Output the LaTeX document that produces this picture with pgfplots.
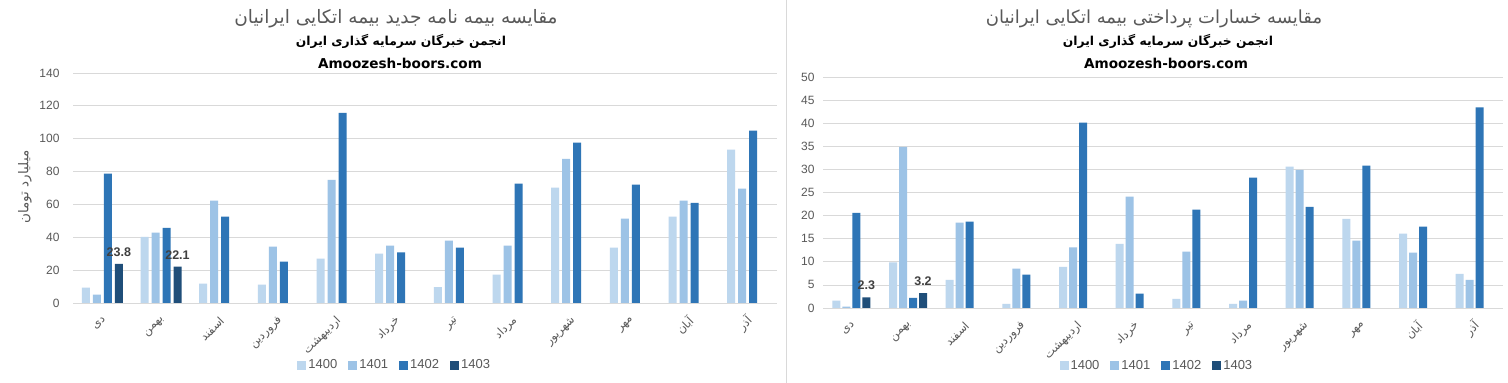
\documentclass[border=0pt]{standalone}
\usepackage{pgfplots}
\pgfplotsset{compat=1.18}
\usepackage{fontspec}
\setmainfont{Liberation Sans}
\newfontfamily\fa[Script=Arabic]{DejaVu Sans}
\newfontfamily\web{DejaVu Sans}
\TeXXeTstate=1
\newcommand{\fat}[1]{{\fa\beginR #1\endR}}
\definecolor{cA}{HTML}{BDD7EE}
\definecolor{cB}{HTML}{9DC3E6}
\definecolor{cC}{HTML}{2E75B6}
\definecolor{cD}{HTML}{1F4E79}
\definecolor{txt}{HTML}{595959}
\definecolor{gridc}{HTML}{D9D9D9}
\definecolor{lab}{HTML}{404040}

\pgfplotsset{
  mybar/.style={
    scale only axis,
    bar width=8pt,
    xmin=-0.5, xmax=11.5, ymin=0,
    xtick={0,...,11},
    xticklabels={\fat{دی},\fat{بهمن},\fat{اسفند},\fat{فروردین},\fat{اردیبهشت},\fat{خرداد},\fat{تیر},\fat{مرداد},\fat{شهریور},\fat{مهر},\fat{آبان},\fat{آذر}},
    xticklabel style={font=\fontsize{11.5}{13}\selectfont, text=txt, inner sep=1pt, xshift=3pt, yshift=-15pt, rotate=45, anchor=east},
    yticklabel style={font=\fontsize{12}{14}\selectfont, text=txt},
    /pgf/number format/assume math mode=true,
    major tick length=0pt,
    axis line style={draw=none},
    ymajorgrids,
    major grid style={gridc, line width=0.8pt},
    legend style={draw=none, legend columns=4, font=\fontsize{13}{15}\selectfont, text=txt,
      /tikz/every even column/.append style={column sep=9pt}},
  },
  sq/.style={draw=none, legend image code/.code={\fill[##1] (0pt,-4.5pt) rectangle (9pt,4.5pt);}},
  lbl/.style={nodes near coords, nodes near coords style={font=\bfseries\fontsize{12.5}{14}\selectfont, text=lab, yshift=4pt},
    /pgf/number format/.cd, fixed, precision=1, fixed zerofill},
}

\begin{document}
\begin{tikzpicture}
\useasboundingbox (0,0) rectangle (1508pt,383pt);
\fill[white] (0,0) rectangle (1508pt,383pt);
\draw[gridc, line width=0.8pt] (786pt,0) -- (786pt,383pt);

% titles left
\node[text=txt, font=\fa\fontsize{18.5}{20}\selectfont] at (396pt,364pt) {\beginR مقایسه بیمه نامه جدید بیمه اتکایی ایرانیان\endR};
\node[font=\fa\bfseries\fontsize{12.3}{14}\selectfont] at (401pt,342pt) {\beginR انجمن خبرگان سرمایه گذاری ایران\endR};
\node[font=\web\bfseries\fontsize{13.6}{15}\selectfont] at (400pt,320pt) {Amoozesh-boors.com};
\node[rotate=90, text=txt, font=\fa\fontsize{13.5}{15}\selectfont] at (25pt,196pt) {\beginR میلیارد تومان\endR};

% titles right
\node[text=txt, font=\fa\fontsize{18}{20}\selectfont] at (1154pt,364pt) {\beginR مقایسه خسارات پرداختی بیمه اتکایی ایرانیان\endR};
\node[font=\fa\bfseries\fontsize{12.3}{14}\selectfont] at (1168pt,342pt) {\beginR انجمن خبرگان سرمایه گذاری ایران\endR};
\node[font=\web\bfseries\fontsize{13.6}{15}\selectfont] at (1166pt,320pt) {Amoozesh-boors.com};

\begin{axis}[mybar, ybar=3pt, at={(73pt,80pt)}, anchor=south west, width=704pt, height=230pt,
  ymax=140, ytick={0,20,...,140}, yticklabel style={xshift=-10pt},
  legend style={at={(0.457,-0.27)}, anchor=center}]
\addplot[fill=cA, sq] coordinates {(0,9.3) (1,40.2) (2,11.8) (3,11.2) (4,27) (5,30) (6,9.7) (7,17.2) (8,70.2) (9,33.7) (10,52.5) (11,93.3)};
\addplot[fill=cB, sq] coordinates {(0,5.1) (1,42.8) (2,62.3) (3,34.3) (4,75) (5,34.9) (6,37.9) (7,34.9) (8,87.8) (9,51.3) (10,62.3) (11,69.6)};
\addplot[fill=cC, sq] coordinates {(0,78.7) (1,45.8) (2,52.5) (3,25.2) (4,115.8) (5,30.8) (6,33.7) (7,72.6) (8,97.6) (9,72) (10,61) (11,104.9)};
\addplot[fill=cD, sq, lbl] coordinates {(0,23.8) (1,22.1)};
\legend{1400,1401,1402,1403}
\end{axis}

\begin{axis}[mybar, ybar=2pt, at={(823pt,75pt)}, anchor=south west, width=680pt, height=231pt,
  ymax=50, ytick={0,5,...,50}, yticklabel style={xshift=-5pt},
  legend style={at={(0.491,-0.25)}, anchor=center}]
\addplot[fill=cA, sq] coordinates {(0,1.6) (1,9.9) (2,6.1) (3,0.9) (4,8.9) (5,13.9) (6,2.0) (7,0.9) (8,30.6) (9,19.3) (10,16.1) (11,7.4)};
\addplot[fill=cB, sq] coordinates {(0,0.3) (1,34.9) (2,18.5) (3,8.5) (4,13.1) (5,24.1) (6,12.2) (7,1.6) (8,29.9) (9,14.6) (10,12.0) (11,6.1)};
\addplot[fill=cC, sq] coordinates {(0,20.6) (1,2.2) (2,18.7) (3,7.2) (4,40.1) (5,3.1) (6,21.3) (7,28.2) (8,21.9) (9,30.8) (10,17.6) (11,43.4)};
\addplot[fill=cD, sq, lbl] coordinates {(0,2.3) (1,3.2)};
\legend{1400,1401,1402,1403}
\end{axis}
\end{tikzpicture}
\end{document}
